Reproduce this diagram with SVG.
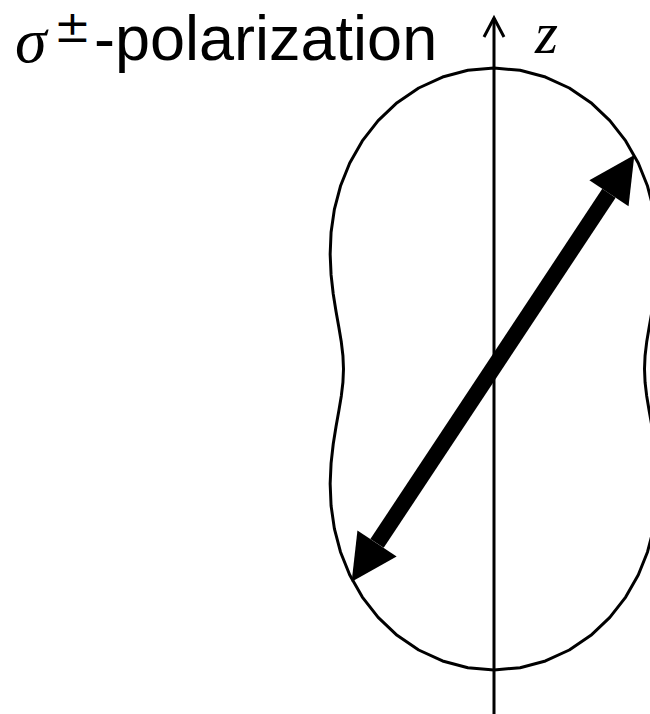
<svg xmlns="http://www.w3.org/2000/svg" width="650" height="714" viewBox="0 0 650 714">
  <defs>
    <style>
      .sans { font-family: "Liberation Sans", Arial, sans-serif; fill: #000; }
      .math { font-family: "Liberation Serif", "Times New Roman", serif; font-style: italic; fill: #000; }
      .mathup { font-family: "DejaVu Serif", "Liberation Serif", serif; fill: #000; }
      .thin { fill: none; stroke: #000; stroke-width: 3; }
      .pattern { fill: none; stroke: #000; stroke-width: 3; stroke-linejoin: round; }
      .dipole { stroke: #000; stroke-width: 16; stroke-linecap: butt; fill: none; }
    </style>
    <marker id="openHead" markerUnits="userSpaceOnUse" orient="auto" refX="0" refY="0" markerWidth="30" markerHeight="30" overflow="visible">
      <path d="M-19,-10 L0,0 L-19,10" fill="none" stroke="#000" stroke-width="3" stroke-linejoin="miter"/>
    </marker>
    <marker id="fatHead" markerUnits="userSpaceOnUse" orient="auto-start-reverse" refX="0" refY="0" markerWidth="50" markerHeight="50" overflow="visible">
      <path d="M0,-23.5 L46,0 L0,23.5 Z" fill="#000"/>
    </marker>
  </defs>

  <g id="title">
    <text class="math" x="15" y="62" font-size="64">σ</text>
    <text class="mathup" x="54" y="42" font-size="44">±</text>
    <text class="sans" x="94" y="60" font-size="63">-polarization</text>
  </g>

  <g id="emission-pattern" transform="translate(494 369) scale(0.9934) translate(-494 -367)">
    <path class="pattern" d="M494,64 L520.31,66.30 L545.82,73.10 L569.80,84.13 L591.57,98.92 L610.62,116.91 L626.56,137.40 L639.21,159.62 L648.53,182.84 L654.69,206.31 L658.01,229.38 L658.93,251.52 L658.00,272.31 L655.83,291.54 L653.01,309.12 L650.14,325.16 L647.70,339.90 L646.07,353.70 L645.5,367 L646.07,380.30 L647.70,394.10 L650.14,408.84 L653.01,424.88 L655.83,442.46 L658.00,461.69 L658.93,482.48 L658.01,504.62 L654.69,527.69 L648.53,551.16 L639.21,574.38 L626.56,596.60 L610.62,617.09 L591.57,635.08 L569.80,649.87 L545.82,660.90 L520.31,667.70 L494,670 L467.69,667.70 L442.18,660.90 L418.20,649.87 L396.43,635.08 L377.38,617.09 L361.44,596.60 L348.79,574.38 L339.47,551.16 L333.31,527.69 L329.99,504.62 L329.07,482.48 L330.00,461.69 L332.17,442.46 L334.99,424.88 L337.86,408.84 L340.30,394.10 L341.93,380.30 L342.5,367 L341.93,353.70 L340.30,339.90 L337.86,325.16 L334.99,309.12 L332.17,291.54 L330.00,272.31 L329.07,251.52 L329.99,229.38 L333.31,206.31 L339.47,182.84 L348.79,159.62 L361.44,137.40 L377.38,116.91 L396.43,98.92 L418.20,84.13 L442.18,73.10 L467.69,66.30 Z"/>
  </g>

  <g id="connectors">
    <line id="z-axis" class="thin" x1="494" y1="714" x2="494" y2="18" marker-end="url(#openHead)"/>
    <line id="dipole" class="dipole" x1="377.04" y1="543.43" x2="608.96" y2="193.27" marker-start="url(#fatHead)" marker-end="url(#fatHead)"/>
  </g>

  <g id="axis-label">
    <text class="math" x="535" y="53" font-size="59">z</text>
  </g>
</svg>
